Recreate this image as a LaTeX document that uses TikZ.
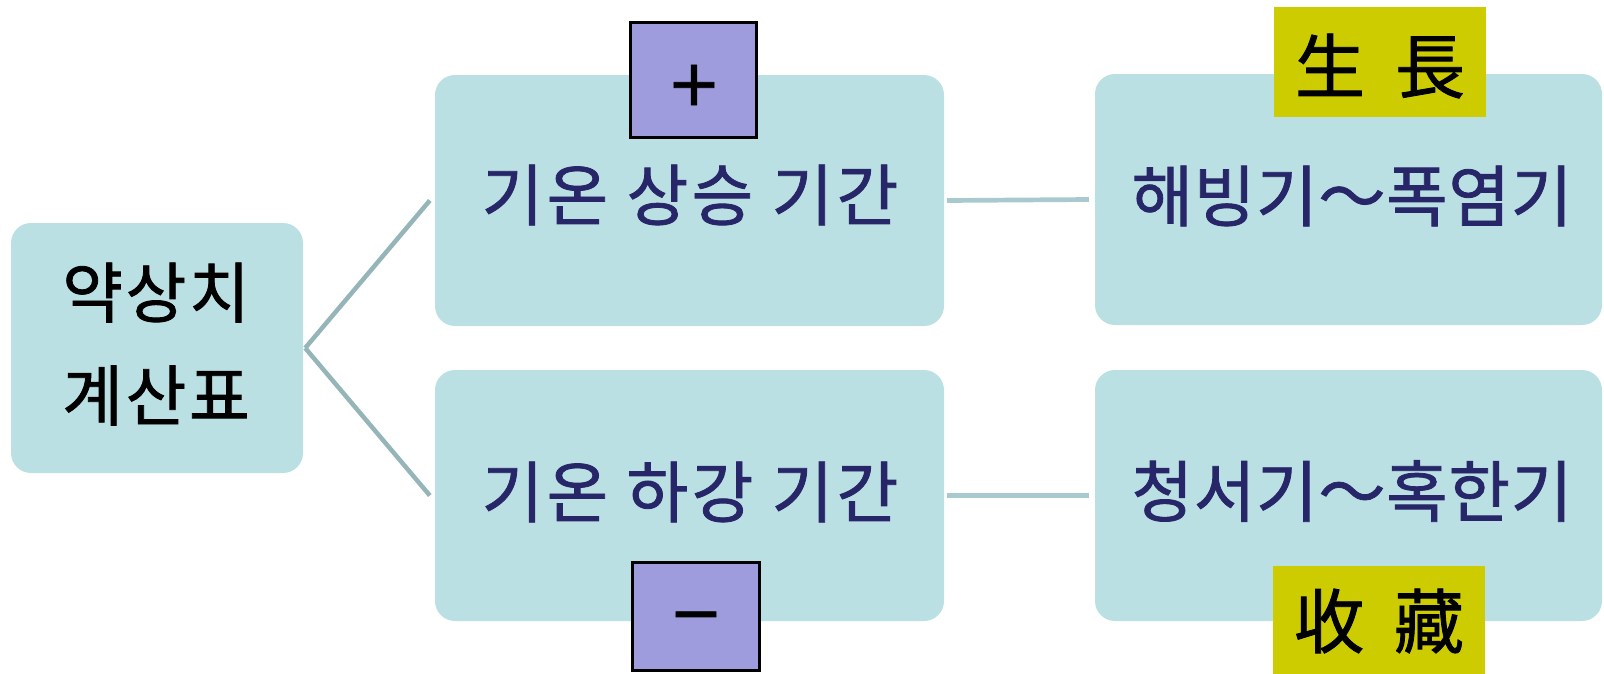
\documentclass[tikz,border=0pt]{standalone}
\usepackage{fontspec}
\setmainfont{Noto Sans CJK KR}
\newfontfamily\signfont{DejaVu Sans}[FakeBold=1.2]

\definecolor{panelblue}{HTML}{BBE0E3}
\definecolor{linkdark}{HTML}{95B5B9}
\definecolor{linklight}{HTML}{A8CACE}
\definecolor{textnavy}{HTML}{262668}
\definecolor{signviolet}{HTML}{9E9CDC}
\definecolor{tagyellow}{HTML}{CCCC00}

\begin{document}
\begin{tikzpicture}[x=1pt,y=-1pt,
  panel/.style={fill=panelblue, draw=none, rounded corners=20pt, inner sep=0pt},
  periodtext/.style={inner sep=0pt, text=textnavy, font=\fontsize{67}{70}\selectfont\addfontfeature{LetterSpace=5,FakeBold=1.2}},
  spantext/.style={inner sep=0pt, text=textnavy, font=\fontsize{67}{70}\selectfont\addfontfeature{LetterSpace=1,FakeBold=1.2}},
  signbox/.style={fill=signviolet, draw=black, line width=3pt, inner sep=0pt},
  signtext/.style={inner sep=0pt, font=\signfont\fontsize{64}{64}\selectfont},
  tag/.style={fill=tagyellow, draw=none, inner sep=0pt},
  tagtext/.style={inner sep=0pt, font=\fontsize{70}{70}\selectfont\addfontfeature{FakeBold=1.2}},
  branch/.style={draw=linkdark, line width=4.5pt},
  link/.style={draw=linklight, line width=4.7pt}]

\useasboundingbox (0,0) rectangle (1604,673);

% rounded panels
\node[panel, minimum width=292pt, minimum height=250pt] (L)  at (157,348) {};
\node[panel, minimum width=509pt, minimum height=251pt] (T)  at (689.5,200.5) {};
\node[panel, minimum width=509pt, minimum height=251pt] (B)  at (689.5,495.5) {};
\node[panel, minimum width=507pt, minimum height=251pt] (TR) at (1348.5,199.5) {};
\node[panel, minimum width=507pt, minimum height=251pt] (BR) at (1348.5,495.5) {};

% panel texts
\node[inner sep=0pt, align=center, font=\fontsize{66}{103}\selectfont\addfontfeature{LetterSpace=4,FakeBold=1.2}] (Ltext) at (156,344) {약상치\\계산표};
\node[periodtext] (Ttext)  at (690,195) {기온 상승 기간};
\node[periodtext] (Btext)  at (690,492) {기온 하강 기간};
\node[spantext] (TRtext) at (1352,196) {해빙기～폭염기};
\node[spantext] (BRtext) at (1352,491) {청서기～혹한기};

% connectors
\draw[branch] ([xshift=2pt]L.east) -- ([xshift=-5pt]T.west);
\draw[branch] ([xshift=2pt]L.east) -- ([xshift=-5pt]B.west);
\draw[link] ([xshift=3pt]T.east) -- ([xshift=-6pt]TR.west);
\draw[link] ([xshift=3pt]B.east) -- ([xshift=-6pt]BR.west);

% sign boxes
\node[signbox, minimum width=126pt, minimum height=115pt] (plus) at (693.5,80) {};
\node[signtext] (plussign) at (694,85) {+};
\node[signbox, minimum width=127pt, minimum height=108pt] (minus) at (696,616.5) {};
\node[signtext] (minussign) at (696,623) {−};

% season tags
\node[tag, minimum width=212pt, minimum height=110pt] (grow) at (1380,62) {};
\node[tagtext] (growtext) at (1380,66) {生\hspace{30pt}長};
\node[tag, minimum width=212pt, minimum height=110pt] (store) at (1379,621) {};
\node[tagtext] (storetext) at (1379,621) {收\hspace{30pt}藏};
\end{tikzpicture}
\end{document}
